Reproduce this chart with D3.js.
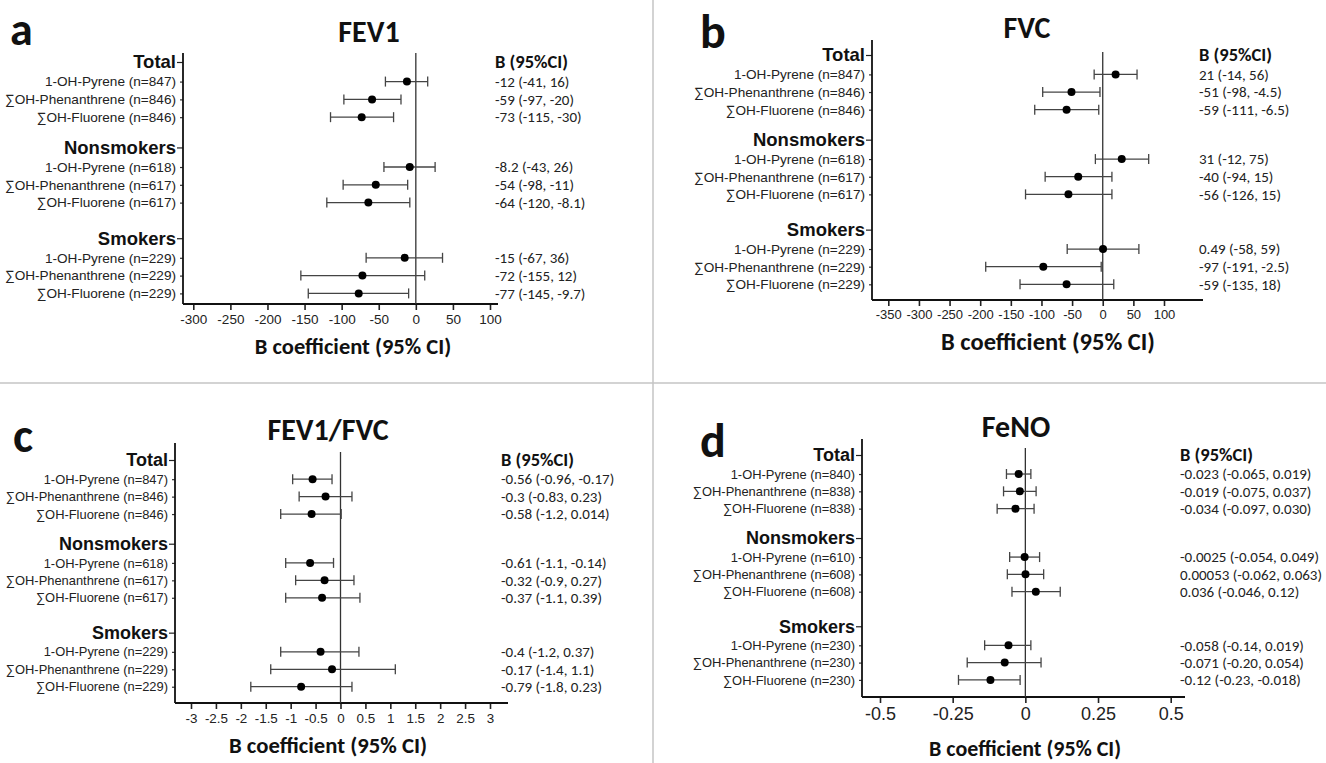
<!DOCTYPE html>
<html>
<head>
<meta charset="utf-8">
<script src="https://cdn.jsdelivr.net/npm/d3@7"></script>
<style>
  html, body { margin: 0; padding: 0; background: #fff; }
  svg { display: block; font-family: Carlito, Lato, "Open Sans", sans-serif; }
</style>
</head>
<body>
<svg id="chart" width="1326" height="763"></svg>
<script>
// ---------------- DATA ----------------
const groups = ["Total", "Nonsmokers", "Smokers"];
const exposures = ["1-OH-Pyrene", "∑OH-Phenanthrene", "∑OH-Fluorene"];
const nSpiro = [847, 846, 846, 618, 617, 617, 229, 229, 229];
const nFeNO  = [840, 838, 838, 610, 608, 608, 230, 230, 230];

// FEV1
const fev1Est = [-12, -59, -73, -8.2, -54, -64, -15, -72, -77];
const fev1Lo  = [-41, -97, -115, -43, -98, -120, -67, -155, -145];
const fev1Hi  = [16, -20, -30, 26, -11, -8.1, 36, 12, -9.7];
const fev1Txt = ["-12 (-41, 16)", "-59 (-97, -20)", "-73 (-115, -30)",
                 "-8.2 (-43, 26)", "-54 (-98, -11)", "-64 (-120, -8.1)",
                 "-15 (-67, 36)", "-72 (-155, 12)", "-77 (-145, -9.7)"];
const fev1Ticks = [-300, -250, -200, -150, -100, -50, 0, 50, 100];

// FVC
const fvcEst = [21, -51, -59, 31, -40, -56, 0.49, -97, -59];
const fvcLo  = [-14, -98, -111, -12, -94, -126, -58, -191, -135];
const fvcHi  = [56, -4.5, -6.5, 75, 15, 15, 59, -2.5, 18];
const fvcTxt = ["21 (-14, 56)", "-51 (-98, -4.5)", "-59 (-111, -6.5)",
                "31 (-12, 75)", "-40 (-94, 15)", "-56 (-126, 15)",
                "0.49 (-58, 59)", "-97 (-191, -2.5)", "-59 (-135, 18)"];
const fvcTicks = [-350, -300, -250, -200, -150, -100, -50, 0, 50, 100];

// FEV1/FVC
const ratioEst = [-0.56, -0.3, -0.58, -0.61, -0.32, -0.37, -0.4, -0.17, -0.79];
const ratioLo  = [-0.96, -0.83, -1.2, -1.1, -0.9, -1.1, -1.2, -1.4, -1.8];
const ratioHi  = [-0.17, 0.23, 0.014, -0.14, 0.27, 0.39, 0.37, 1.1, 0.23];
const ratioTxt = ["-0.56 (-0.96, -0.17)", "-0.3 (-0.83, 0.23)", "-0.58 (-1.2, 0.014)",
                  "-0.61 (-1.1, -0.14)", "-0.32 (-0.9, 0.27)", "-0.37 (-1.1, 0.39)",
                  "-0.4 (-1.2, 0.37)", "-0.17 (-1.4, 1.1)", "-0.79 (-1.8, 0.23)"];
const ratioTicks = [-3, -2.5, -2, -1.5, -1, -0.5, 0, 0.5, 1, 1.5, 2, 2.5, 3];

// FeNO
const fenoEst = [-0.023, -0.019, -0.034, -0.0025, 0.00053, 0.036, -0.058, -0.071, -0.12];
const fenoLo  = [-0.065, -0.075, -0.097, -0.054, -0.062, -0.046, -0.14, -0.20, -0.23];
const fenoHi  = [0.019, 0.037, 0.030, 0.049, 0.063, 0.12, 0.019, 0.054, -0.018];
const fenoTxt = ["-0.023 (-0.065, 0.019)", "-0.019 (-0.075, 0.037)", "-0.034 (-0.097, 0.030)",
                 "-0.0025 (-0.054, 0.049)", "0.00053 (-0.062, 0.063)", "0.036 (-0.046, 0.12)",
                 "-0.058 (-0.14, 0.019)", "-0.071 (-0.20, 0.054)", "-0.12 (-0.23, -0.018)"];
const fenoTicks = [-0.5, -0.25, 0, 0.25, 0.5];
const fenoTickLabels = ["-0.5", "-0.25", "0", "0.25", "0.5"];

// ---------------- LAYOUT ----------------
const headerSlots = [0, 4.8, 9.9];
const rowOffsets = [1.1, 2.1, 3.1];

const panels = [
  { letter: "a", lx: 10, ly: 45, lsize: 46, title: "FEV1", tx: 369, ty: 42,
    est: fev1Est, lo: fev1Lo, hi: fev1Hi, txt: fev1Txt, n: nSpiro,
    ticks: fev1Ticks, tickFmt: d => d, tickSize: 13.5, rowSize: 13.6, headSize: 18.5,
    yAxisX: 183, axisTop: 53, zeroTop: 53, top: 62, unit: 17.8, axisY: 304, xEnd: 498,
    range: [193.3, 490], atx: 353, aty: 354, atSize: 22.5, bx: 495 },
  { letter: "b", lx: 700, ly: 48, lsize: 48, title: "FVC", tx: 1027, ty: 38,
    est: fvcEst, lo: fvcLo, hi: fvcHi, txt: fvcTxt, n: nSpiro,
    ticks: fvcTicks, tickFmt: d => d, tickSize: 13, rowSize: 13.6, headSize: 18.5,
    yAxisX: 872, axisTop: 40, zeroTop: 52, top: 55, unit: 17.64, axisY: 300, xEnd: 1203,
    range: [888.3, 1164], atx: 1048, aty: 350, atSize: 24.5, bx: 1199 },
  { letter: "c", lx: 13, ly: 452, lsize: 48, title: "FEV1/FVC", tx: 328, ty: 440,
    est: ratioEst, lo: ratioLo, hi: ratioHi, txt: ratioTxt, n: nSpiro,
    ticks: ratioTicks, tickFmt: d => d, tickSize: 13.4, rowSize: 12.9, headSize: 18,
    yAxisX: 175, axisTop: 443, zeroTop: 452, top: 460, unit: 17.44, axisY: 703, xEnd: 508,
    range: [191, 490], atx: 328, aty: 753, atSize: 22.7, bx: 501 },
  { letter: "d", lx: 700, ly: 457, lsize: 48, title: "FeNO", tx: 1016, ty: 437,
    est: fenoEst, lo: fenoLo, hi: fenoHi, txt: fenoTxt, n: nFeNO,
    ticks: fenoTicks, tickFmt: (d, i) => fenoTickLabels[i], tickSize: 18, rowSize: 12.9, headSize: 18,
    yAxisX: 862, axisTop: 439, zeroTop: 448, top: 455, unit: 17.3, axisY: 697, xEnd: 1185,
    range: [880, 1170.7], atx: 1025, aty: 756, atSize: 22, bx: 1180 }
];

const svg = d3.select("#chart");

// separators
svg.append("line").attr("x1", 653).attr("x2", 653).attr("y1", 0).attr("y2", 763)
  .attr("stroke", "#c4c4c4").attr("stroke-width", 1.5);
svg.append("line").attr("x1", 0).attr("x2", 1326).attr("y1", 383).attr("y2", 383)
  .attr("stroke", "#c4c4c4").attr("stroke-width", 1.5);

panels.forEach(p => {
  const g = svg.append("g");
  const x = d3.scaleLinear().domain([p.ticks[0], p.ticks[p.ticks.length - 1]]).range(p.range);
  const y = d3.scaleLinear().domain([0, 13]).range([p.top, p.top + 13 * p.unit]);

  const rows = [];
  groups.forEach((grp, gi) => {
    exposures.forEach((ex, ei) => {
      const k = gi * 3 + ei;
      rows.push({ slot: headerSlots[gi] + rowOffsets[ei],
        label: `${ex} (n=${p.n[k]})`, est: p.est[k], lo: p.lo[k], hi: p.hi[k], txt: p.txt[k] });
    });
  });

  // panel letter + title
  g.append("text").attr("x", p.lx).attr("y", p.ly).text(p.letter)
    .attr("font-size", p.lsize).attr("font-weight", "bold").attr("fill", "#111");
  g.append("text").attr("x", p.tx).attr("y", p.ty).text(p.title)
    .attr("text-anchor", "middle").attr("font-size", 30).attr("font-weight", "bold").attr("fill", "#111");

  // y axis — headers
  const yHead = d3.axisLeft(y).tickValues(headerSlots).tickFormat((d, i) => groups[i])
    .tickSize(6).tickPadding(1);
  const gh = g.append("g").attr("transform", `translate(${p.yAxisX},0)`).call(yHead);
  gh.select(".domain").remove();
  gh.selectAll("text").attr("font-size", p.headSize).attr("font-weight", "bold").attr("fill", "#111")
    .attr("font-family", null);
  gh.selectAll("line").attr("stroke", "#222").attr("stroke-width", 1.2);

  // y axis — rows
  const yRow = d3.axisLeft(y).tickValues(rows.map(r => r.slot)).tickFormat((d, i) => rows[i].label)
    .tickSize(3).tickPadding(4);
  const gr = g.append("g").attr("transform", `translate(${p.yAxisX},0)`).call(yRow);
  gr.select(".domain").remove();
  gr.selectAll("text").attr("font-size", p.rowSize).attr("fill", "#222").attr("font-family", null);
  gr.selectAll("line").attr("stroke", "#333").attr("stroke-width", 1.2);

  // y axis line
  g.append("line").attr("x1", p.yAxisX).attr("x2", p.yAxisX).attr("y1", p.axisTop).attr("y2", p.axisY)
    .attr("stroke", "#111").attr("stroke-width", 1.8);

  // x axis
  const xAxis = d3.axisBottom(x).tickValues(p.ticks).tickFormat(p.tickFmt).tickSize(6).tickPadding(4);
  const gx = g.append("g").attr("transform", `translate(0,${p.axisY})`).call(xAxis);
  gx.select(".domain").remove();
  gx.selectAll("text").attr("font-size", p.tickSize).attr("fill", "#222").attr("font-family", null);
  gx.selectAll("line").attr("stroke", "#222").attr("stroke-width", 1.6);
  g.append("line").attr("x1", p.yAxisX).attr("x2", p.xEnd).attr("y1", p.axisY).attr("y2", p.axisY)
    .attr("stroke", "#111").attr("stroke-width", 2);

  // zero line
  g.append("line").attr("x1", x(0)).attr("x2", x(0)).attr("y1", p.zeroTop).attr("y2", p.axisY)
    .attr("stroke", "#333").attr("stroke-width", 1.3);

  // axis title
  g.append("text").attr("x", p.atx).attr("y", p.aty).text("B coefficient (95% CI)")
    .attr("text-anchor", "middle").attr("font-size", p.atSize).attr("font-weight", "bold").attr("fill", "#111");

  // error bars
  const eb = g.append("g").selectAll("g").data(rows).join("g");
  eb.append("line").attr("x1", d => x(d.lo)).attr("x2", d => x(d.hi))
    .attr("y1", d => y(d.slot)).attr("y2", d => y(d.slot)).attr("stroke", "#444").attr("stroke-width", 1.3);
  eb.append("line").attr("x1", d => x(d.lo)).attr("x2", d => x(d.lo))
    .attr("y1", d => y(d.slot) - 5).attr("y2", d => y(d.slot) + 5).attr("stroke", "#444").attr("stroke-width", 1.3);
  eb.append("line").attr("x1", d => x(d.hi)).attr("x2", d => x(d.hi))
    .attr("y1", d => y(d.slot) - 5).attr("y2", d => y(d.slot) + 5).attr("stroke", "#444").attr("stroke-width", 1.3);
  eb.append("circle").attr("cx", d => x(d.est)).attr("cy", d => y(d.slot)).attr("r", 4).attr("fill", "#000");

  // value column
  g.append("text").attr("x", p.bx).attr("y", y(0)).attr("dy", "0.35em").text("B (95%CI)")
    .attr("font-size", 18.5).attr("font-weight", "bold").attr("fill", "#111");
  g.append("g").selectAll("text").data(rows).join("text")
    .attr("x", p.bx).attr("y", d => y(d.slot)).attr("dy", "0.35em").text(d => d.txt)
    .attr("font-size", 15).attr("fill", "#222");
});
</script>
</body>
</html>
